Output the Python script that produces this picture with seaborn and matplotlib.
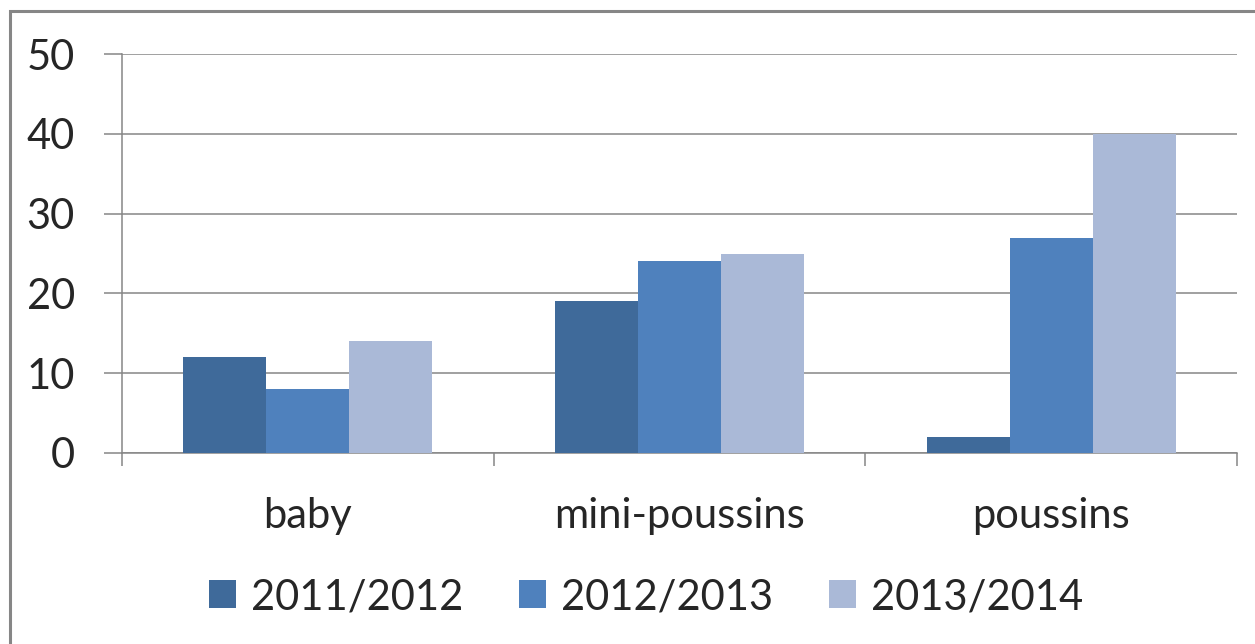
import pandas as pd
import numpy as np
import matplotlib.pyplot as plt
import matplotlib.patches as patches
import seaborn as sns

# estilo base
sns.set_style("white")
plt.rcParams['font.family'] = ['Lato', 'DejaVu Sans']

# dados
categorias = ['baby', 'mini-poussins', 'poussins']
temporadas = ['2011/2012', '2012/2013', '2013/2014']
v_2011 = [12, 19, 2]
v_2012 = [8, 24, 27]
v_2013 = [14, 25, 40]
cores = ['#3F6A9A', '#4F81BD', '#AAB9D7']

df = pd.DataFrame({
    'categoria': categorias * 3,
    'temporada': [t for t in temporadas for _ in categorias],
    'valor': v_2011 + v_2012 + v_2013,
})

cinza = '#868686'
fig = plt.figure(figsize=(12.55, 6.44), dpi=100)
ax = fig.add_axes([122 / 1255, 1 - 453 / 644, (1237 - 122) / 1255, (453 - 54) / 644])

sns.barplot(data=df, x='categoria', y='valor', hue='temporada', order=categorias,
            hue_order=temporadas, palette=cores, width=0.67, gap=0,
            saturation=1, linewidth=0, ax=ax, zorder=3)

# eixo y e grade
ax.set_ylim(0, 50)
ax.set_yticks(np.arange(0, 51, 10))
ax.set_xlim(-0.5, 2.5)
ax.yaxis.grid(True, color=cinza, linewidth=1.1, zorder=0)
ax.set_axisbelow(True)
ax.tick_params(axis='y', length=13, width=1.1, color=cinza, pad=21, labelsize=30, left=True)

# eixo x: marcas nas divisorias das categorias
ax.set_xticks(np.arange(-0.5, 3, 1), minor=True)
ax.tick_params(axis='x', which='minor', length=9, width=1.1, color=cinza, bottom=True)
ax.tick_params(axis='x', which='major', length=0, pad=32, labelsize=30)
ax.set_xlabel('')
ax.set_ylabel('')

for lado in ['top', 'right']:
    ax.spines[lado].set_visible(False)
for lado in ['left', 'bottom']:
    ax.spines[lado].set_color(cinza)
    ax.spines[lado].set_linewidth(1.1)

# legenda embaixo
ax.legend(loc='center', bbox_to_anchor=(646 / 1255, 1 - 597 / 644),
          bbox_transform=fig.transFigure, ncol=3, frameon=False, fontsize=30,
          handlelength=0.65, handleheight=0.65, handletextpad=0.35,
          columnspacing=1.35, borderpad=0)

# moldura do grafico
moldura = patches.Rectangle((10 / 1255, -0.1), 1.2, (1 - 11 / 644) + 0.1,
                            transform=fig.transFigure, fill=False,
                            edgecolor=cinza, linewidth=2.2)
fig.patches.append(moldura)

fig.savefig('out.png', dpi=100)
